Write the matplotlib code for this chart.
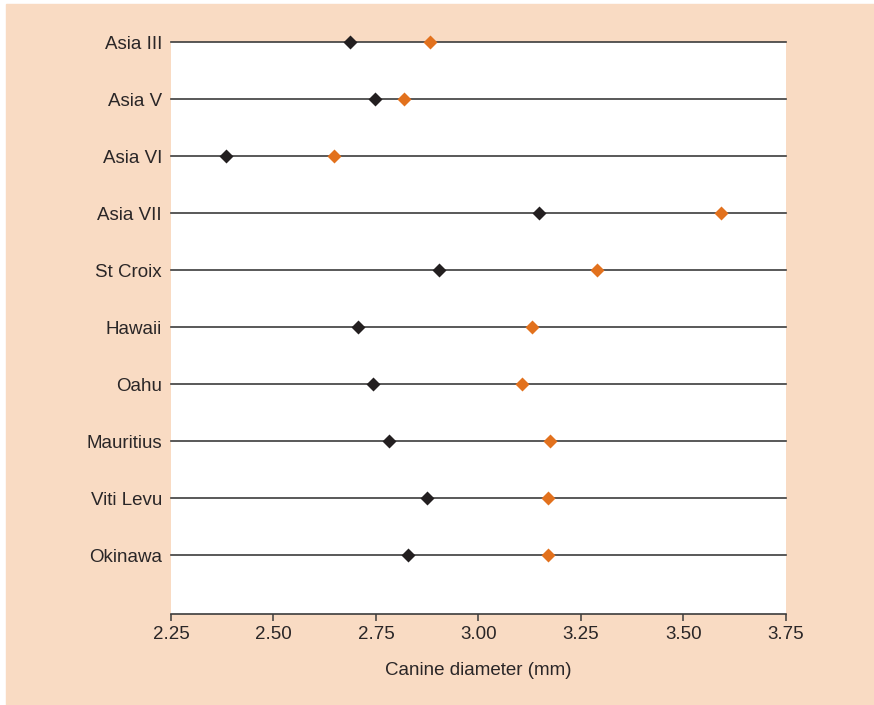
import matplotlib.pyplot as plt
from matplotlib.patches import Rectangle

plt.rcParams['font.family'] = ['Liberation Sans', 'DejaVu Sans']

islands = ['Asia III', 'Asia V', 'Asia VI', 'Asia VII', 'St Croix',
           'Hawaii', 'Oahu', 'Mauritius', 'Viti Levu', 'Okinawa']
black_vals = [2.687, 2.749, 2.384, 3.148, 2.904, 2.706, 2.742, 2.781, 2.875, 2.828]
orange_vals = [2.883, 2.818, 2.647, 3.591, 3.289, 3.132, 3.107, 3.176, 3.169, 3.169]
xticks = [2.25, 2.50, 2.75, 3.00, 3.25, 3.50, 3.75]

peach = '#F9DBC3'
dark = '#231F20'
orange = '#E2711D'
line_col = '#3C3C3C'
text_col = '#2A2627'

fig = plt.figure(figsize=(8.74, 7.05), dpi=100)
fig.patches.append(Rectangle((6 / 874, 0), 1, 1 - 4 / 705,
                             transform=fig.transFigure, color=peach, zorder=-10))

ax = fig.add_axes([171 / 874, 1 - 614 / 705, (785.7 - 171) / 874, (614 - 42) / 705])
ax.set_facecolor('white')

ypos = list(range(len(islands)))
for y in ypos:
    ax.plot([2.25, 3.75], [y, y], color=line_col, lw=1.2, clip_on=False, zorder=1)
ax.plot(black_vals, ypos, 'D', color=dark, ms=7.2, mec='none', clip_on=False, zorder=3)
ax.plot(orange_vals, ypos, 'D', color=orange, ms=7.2, mec='none', clip_on=False, zorder=3)

ax.set_xlim(2.25, 3.75)
ax.set_ylim(10.03, 0)
ax.set_yticks(ypos)
ax.set_yticklabels(islands)
ax.set_xticks(xticks)
ax.set_xticklabels([f'{t:.2f}' for t in xticks])
ax.tick_params(axis='y', length=0, pad=6.5, labelsize=13.5, labelcolor=text_col)
ax.tick_params(axis='x', length=5, width=1.1, color=line_col, pad=3.5,
               labelsize=13.5, labelcolor=text_col)

for s in ['top', 'right', 'left']:
    ax.spines[s].set_visible(False)
ax.spines['bottom'].set_color(line_col)
ax.spines['bottom'].set_linewidth(1.2)

ax.set_xlabel('Canine diameter (mm)', fontsize=13.5, color=text_col, labelpad=14)

fig.savefig('out.png', dpi=100)
